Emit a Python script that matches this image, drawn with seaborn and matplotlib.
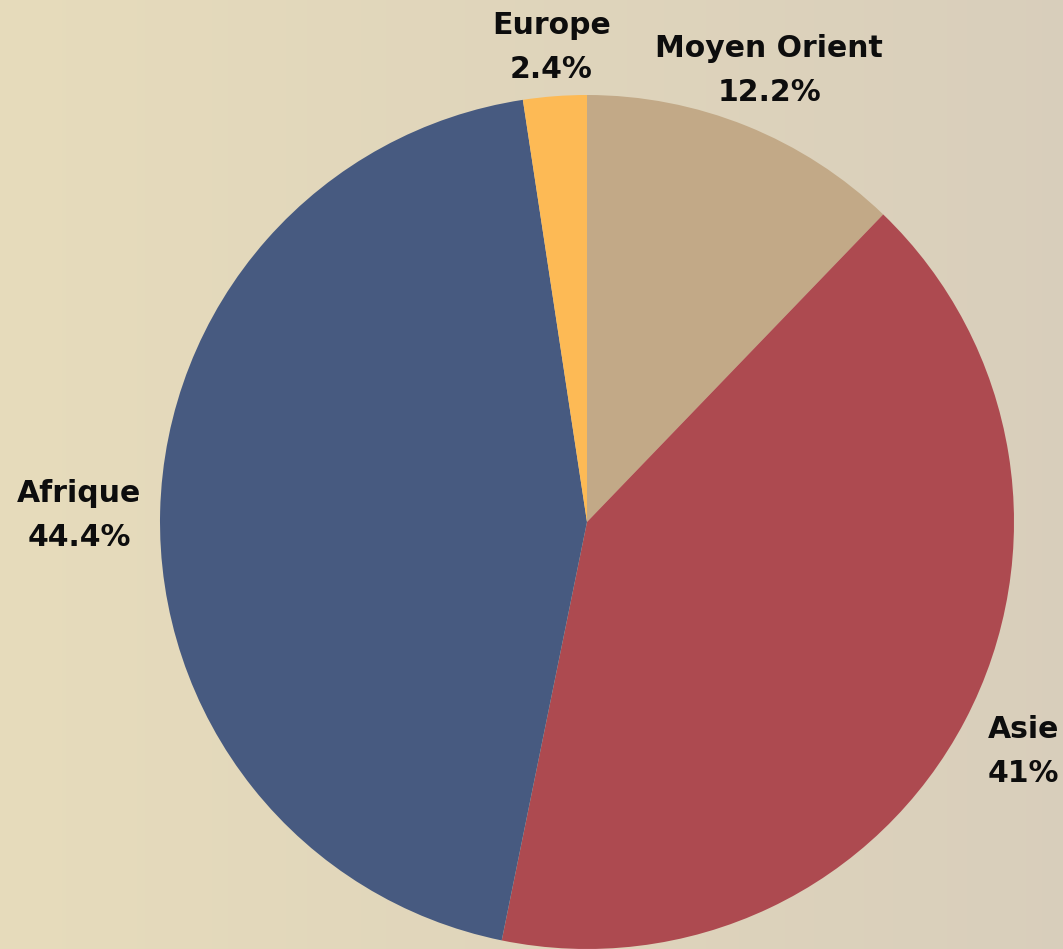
import numpy as np
import matplotlib
matplotlib.use("Agg")
import matplotlib.pyplot as plt
import seaborn as sns

sns.set_theme(style="white")
plt.rcParams['font.family'] = ['DejaVu Sans']

categories = ["Moyen Orient", "Asie", "Afrique", "Europe"]
values = [12.2, 41, 44.4, 2.4]
value_labels = ["12.2%", "41%", "44.4%", "2.4%"]
colors = ["#C2A987", "#AD4A50", "#475A80", "#FDBA55"]

W, H = 1063, 949
fig = plt.figure(figsize=(W / 100, H / 100), dpi=100)

# background gradient (beige wall approximation)
bg = fig.add_axes([0, 0, 1, 1])
xs = np.linspace(0, 1, 256)
left = np.array([0.905, 0.862, 0.735])
right = np.array([0.850, 0.810, 0.735])
grad = left[None, :] * (1 - xs[:, None]) + right[None, :] * xs[:, None]
grad = grad[None, :, :]
bg.imshow(grad, aspect="auto", extent=[0, 1, 0, 1])
bg.axis("off")

ax = fig.add_axes([0, 0, 1, 1])
ax.patch.set_alpha(0)
R = 427.0
cx, cy = 587.0, 522.0
wedges, _ = ax.pie(values, colors=colors, startangle=90, counterclock=False,
                   radius=1.0, wedgeprops=dict(linewidth=0))
ax.set_xlim(-cx / R, (W - cx) / R)
ax.set_ylim(-(H - cy) / R, cy / R)
ax.set_aspect("auto")
ax.axis("off")

dists = [1.14, 1.155, 1.19, 1.115]
yoffs = [0, 0, -6, 0]
for w, cat, lab, d, yo in zip(wedges, categories, value_labels, dists, yoffs):
    ang = np.deg2rad((w.theta1 + w.theta2) / 2)
    x, y = d * np.cos(ang), d * np.sin(ang)
    ax.annotate(f"{cat}\n{lab}", xy=(x, y), xytext=(0, yo),
                textcoords="offset pixels", ha="center", va="center",
                fontsize=21.5, fontweight="bold", color="#0d0d0d",
                linespacing=1.65)

fig.savefig("out.png", dpi=100)
